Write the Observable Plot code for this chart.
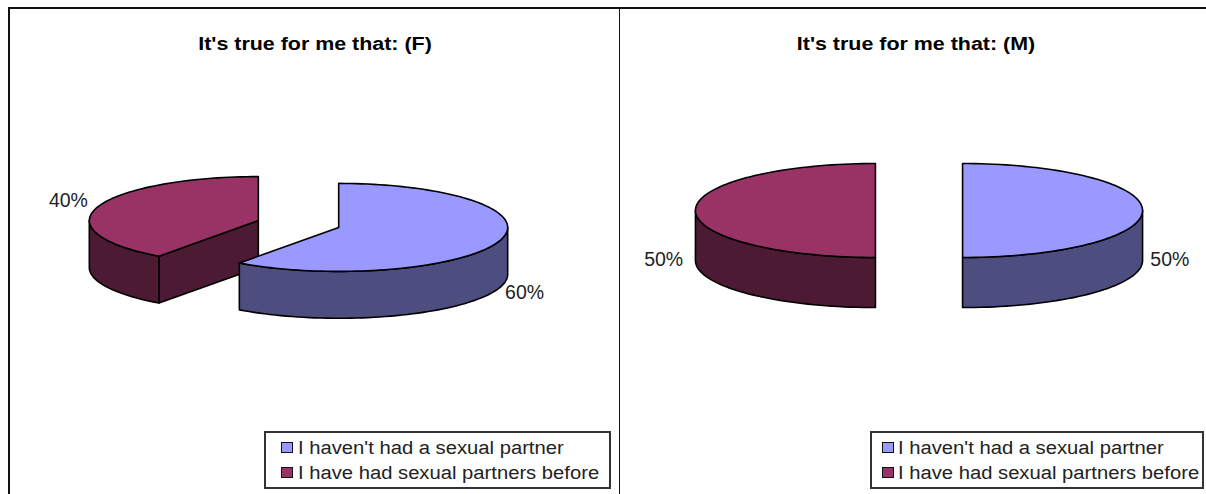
<!DOCTYPE html>
<html>
<head>
<meta charset="utf-8">
<script src="https://cdn.jsdelivr.net/npm/d3@7"></script>
<script src="https://cdn.jsdelivr.net/npm/@observablehq/plot@0.6"></script>
<style>
  html, body { margin: 0; padding: 0; background: #fff; }
  #chart { position: relative; width: 1206px; height: 494px; overflow: hidden; font-family: "Liberation Sans", Arial, sans-serif; color: #222; }
  .panel { position: absolute; top: 0; }
  .panel svg { display: block; background: transparent; }
  .rule { position: absolute; background: #111; }
  .title { position: absolute; top: 34px; font-size: 18px; font-weight: bold; color: #000; text-align: center; white-space: nowrap; line-height: 20px; transform: translateX(-50%) scaleX(1.19); }
  .legend { position: absolute; box-sizing: border-box; top: 431px; height: 58px; border: 2px solid #333; background: #fff; }
  .legend div { position: absolute; white-space: nowrap; font-size: 18px; line-height: 20px; transform-origin: left center; transform: scaleX(1.123); }
  .legend i { position: absolute; box-sizing: border-box; width: 12px; height: 11px; border: 1.5px solid #111; }
</style>
</head>
<body>
<div id="chart"></div>
<script>
// Survey answers, in percent
const categories = ["I haven't had a sexual partner", "I have had sexual partners before"];
const femaleShares = [60, 40];
const maleShares = [50, 50];
const titles = ["It's true for me that: (F)", "It's true for me that: (M)"];

// Slice colours: top face and darker side wall
const topColors = ["#9999ff", "#993366"];
const wallColors = ["#4d4d80", "#4d1a33"];

// Panel layout in pixels; the pies themselves are drawn in unit coordinates
const panels = [
  { shares: femaleShares, title: titles[0], left: 0, width: 619, cx: 298, cy: 223.5, rx: 169, ry: 44, explode: 0.25, titleX: 314.5, legendLeft: 264, legendWidth: 347 },
  { shares: maleShares, title: titles[1], left: 619, width: 587, cx: 299.5, cy: 210, rx: 180, ry: 47, explode: 0.242, titleX: 915.5, legendLeft: 870, legendWidth: 334 }
];
const depth = 1.065;            // wall height, in units of the vertical radius
const labelRadius = { right: 1.285, left: 1.31, y: 1.65 };
const EPS = 1e-9;

// Angle measured clockwise from twelve o'clock
const rim = (a, ox, oy, drop = 0) => ({ x: ox + Math.sin(a), y: oy - Math.cos(a) + drop });
function arc(a0, a1, ox, oy, drop) {
  const n = Math.max(2, Math.ceil(Math.abs(a1 - a0) / (Math.PI / 90)));
  return d3.range(n + 1).map((i) => rim(a0 + (a1 - a0) * i / n, ox, oy, drop));
}

// Builds the visible faces of every slice, back to front
function buildPie(shares, explode) {
  const total = d3.sum(shares);
  let start = 0;
  const slices = shares.map((share, i) => {
    const a0 = start, a1 = start + share / total * 2 * Math.PI;
    start = a1;
    const mid = (a0 + a1) / 2;
    return { i, share, a0, a1, mid, ox: Math.sin(mid) * explode, oy: -Math.cos(mid) * explode };
  });
  const faces = [];
  for (const s of [...slices].reverse()) {
    const apex = { x: s.ox, y: s.oy };
    const radial = (a) => {
      const p = rim(a, s.ox, s.oy);
      return [apex, p, { x: p.x, y: p.y + depth }, { x: apex.x, y: apex.y + depth }];
    };
    if (Math.sin(s.a0) < -EPS) faces.push({ fill: wallColors[s.i], points: radial(s.a0) });
    if (Math.sin(s.a1) > EPS) faces.push({ fill: wallColors[s.i], points: radial(s.a1) });
    const w0 = Math.max(s.a0, Math.PI / 2), w1 = Math.min(s.a1, 3 * Math.PI / 2);
    if (w1 > w0) {
      faces.push({
        fill: wallColors[s.i],
        points: [...arc(w0, w1, s.ox, s.oy, 0), ...arc(w1, w0, s.ox, s.oy, depth)]
      });
    }
    faces.push({ fill: topColors[s.i], points: [apex, ...arc(s.a0, s.a1, s.ox, s.oy, 0)] });
  }
  const labels = slices.map((s) => {
    const front = Math.cos(s.mid) < 0.01;
    const onRight = Math.sin(s.mid) >= 0;
    return {
      text: `${s.share}%`,
      x: Math.sin(s.mid) * (onRight ? labelRadius.right : labelRadius.left),
      y: -Math.cos(s.mid) * labelRadius.y + (front ? depth : 0),
      anchor: onRight ? "start" : "end"
    };
  });
  return { faces, labels };
}

const chart = document.getElementById("chart");

for (const p of panels) {
  const { faces, labels } = buildPie(p.shares, p.explode);
  const svg = Plot.plot({
    width: p.width,
    height: 494,
    margin: 0,
    x: { domain: [-1, 1], range: [p.cx - p.rx, p.cx + p.rx], axis: null },
    y: { domain: [-1, 1], range: [p.cy - p.ry, p.cy + p.ry], axis: null },
    marks: [
      ...faces.map((f) => Plot.line(f.points, {
        x: "x", y: "y", fill: f.fill, stroke: "#000", strokeWidth: 1.6,
        curve: "linear-closed", strokeLinejoin: "round"
      })),
      ...labels.map((l) => Plot.text([l], {
        x: "x", y: "y", text: "text", textAnchor: l.anchor, dy: -1,
        fontSize: 19.5, fill: "#222", fontFamily: "Liberation Sans, Arial, sans-serif"
      }))
    ]
  });
  const holder = document.createElement("div");
  holder.className = "panel";
  holder.style.left = p.left + "px";
  holder.append(svg);
  chart.append(holder);

  const title = document.createElement("div");
  title.className = "title";
  title.style.left = p.titleX + "px";
  title.textContent = p.title;
  chart.append(title);

  const legend = document.createElement("div");
  legend.className = "legend";
  legend.style.left = p.legendLeft + "px";
  legend.style.width = p.legendWidth + "px";
  categories.forEach((name, i) => {
    const swatch = document.createElement("i");
    swatch.style.cssText = `left:${p.left ? 10 : 15}px;top:${9 + i * 25}px;background:${topColors[i]}`;
    const label = document.createElement("div");
    label.style.cssText = `left:${p.left ? 26 : 32}px;top:${4.5 + i * 25.5}px`;
    label.textContent = name;
    legend.append(swatch, label);
  });
  chart.append(legend);
}

// Frame lines around and between the two charts
for (const [l, t, w, h] of [[8, 7, 1198, 1.5], [8, 7, 1.5, 487], [618.5, 7, 1.5, 487]]) {
  const r = document.createElement("div");
  r.className = "rule";
  r.style.cssText = `left:${l}px;top:${t}px;width:${w}px;height:${h}px`;
  chart.append(r);
}
</script>
</body>
</html>
